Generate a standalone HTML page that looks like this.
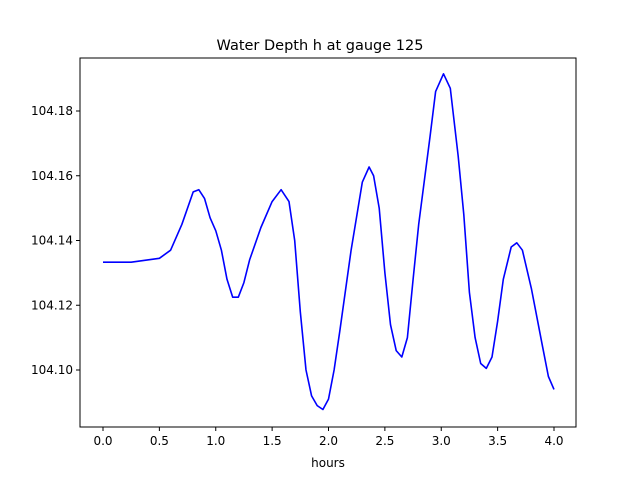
<!DOCTYPE html>
<html><head><meta charset="utf-8"><style>body{margin:0;background:#fff}svg{display:block;font-family:"DejaVu Sans","Liberation Sans",sans-serif}</style></head>
<body>
<svg id="c" width="640" height="480"></svg>
<script>
const hours=[0,0.25,0.5,0.6,0.7,0.8,0.85,0.9,0.95,1.0,1.05,1.1,1.15,1.2,1.25,1.3,1.4,1.5,1.58,1.65,1.7,1.75,1.8,1.85,1.9,1.95,2.0,2.05,2.1,2.2,2.3,2.36,2.4,2.45,2.5,2.55,2.6,2.65,2.7,2.75,2.8,2.9,2.95,3.02,3.08,3.15,3.2,3.25,3.3,3.35,3.4,3.45,3.5,3.55,3.62,3.67,3.72,3.8,3.9,3.95,4.0];
const depth=[104.1333,104.1333,104.1345,104.137,104.145,104.155,104.1557,104.153,104.147,104.143,104.137,104.128,104.1225,104.1225,104.127,104.134,104.144,104.152,104.1557,104.152,104.140,104.118,104.100,104.092,104.089,104.0878,104.091,104.100,104.112,104.137,104.158,104.1627,104.160,104.150,104.130,104.114,104.106,104.104,104.110,104.128,104.145,104.172,104.186,104.1915,104.187,104.166,104.148,104.124,104.110,104.102,104.1005,104.104,104.115,104.128,104.138,104.1393,104.137,104.125,104.107,104.098,104.094];
const xTicks=[0,0.5,1,1.5,2,2.5,3,3.5,4];
const xTickLabels=["0.0","0.5","1.0","1.5","2.0","2.5","3.0","3.5","4.0"];
const yTicks=[104.10,104.12,104.14,104.16,104.18];
const yTickLabels=["104.10","104.12","104.14","104.16","104.18"];
const L=80,R=576,T=58,B=427;
const sx=v=>103+(v-0)*112.75;
const sy=v=>370-(v-104.10)*3237.5;
const svg=document.getElementById('c');const NS='http://www.w3.org/2000/svg';
function mk(t,a,p){const e=document.createElementNS(NS,t);for(const k in a)e.setAttribute(k,a[k]);(p||svg).appendChild(e);return e;}
let t=mk('text',{x:320,y:50,'text-anchor':'middle','font-size':14.5,fill:'#000'});t.textContent='Water Depth h at gauge 125';


let d='';hours.forEach((h,i)=>{d+=(i?'L':'M')+sx(h).toFixed(1)+','+sy(depth[i]).toFixed(1);});
let p=mk('path',{d:d,fill:'none',stroke:'#0000ff','stroke-width':1.6,'stroke-linejoin':'round'});


let f=mk('rect',{x:L,y:T,width:R-L,height:B-T,fill:'none',stroke:'#000','stroke-width':1});


xTicks.forEach((v,i)=>{const x=sx(v);mk('line',{x1:x,x2:x,y1:B,y2:B+4,stroke:'#000'});
const tx=mk('text',{x:x,y:B+18,'text-anchor':'middle','font-size':12});tx.textContent=xTickLabels[i];

});
yTicks.forEach((v,i)=>{const y=sy(v);mk('line',{x1:L-4,x2:L,y1:y,y2:y,stroke:'#000'});
const ty=mk('text',{x:L-7,y:y+4,'text-anchor':'end','font-size':12});ty.textContent=yTickLabels[i];

});
let xl=mk('text',{x:328,y:467,'text-anchor':'middle','font-size':12});xl.textContent='hours';


</script>
</body></html>
